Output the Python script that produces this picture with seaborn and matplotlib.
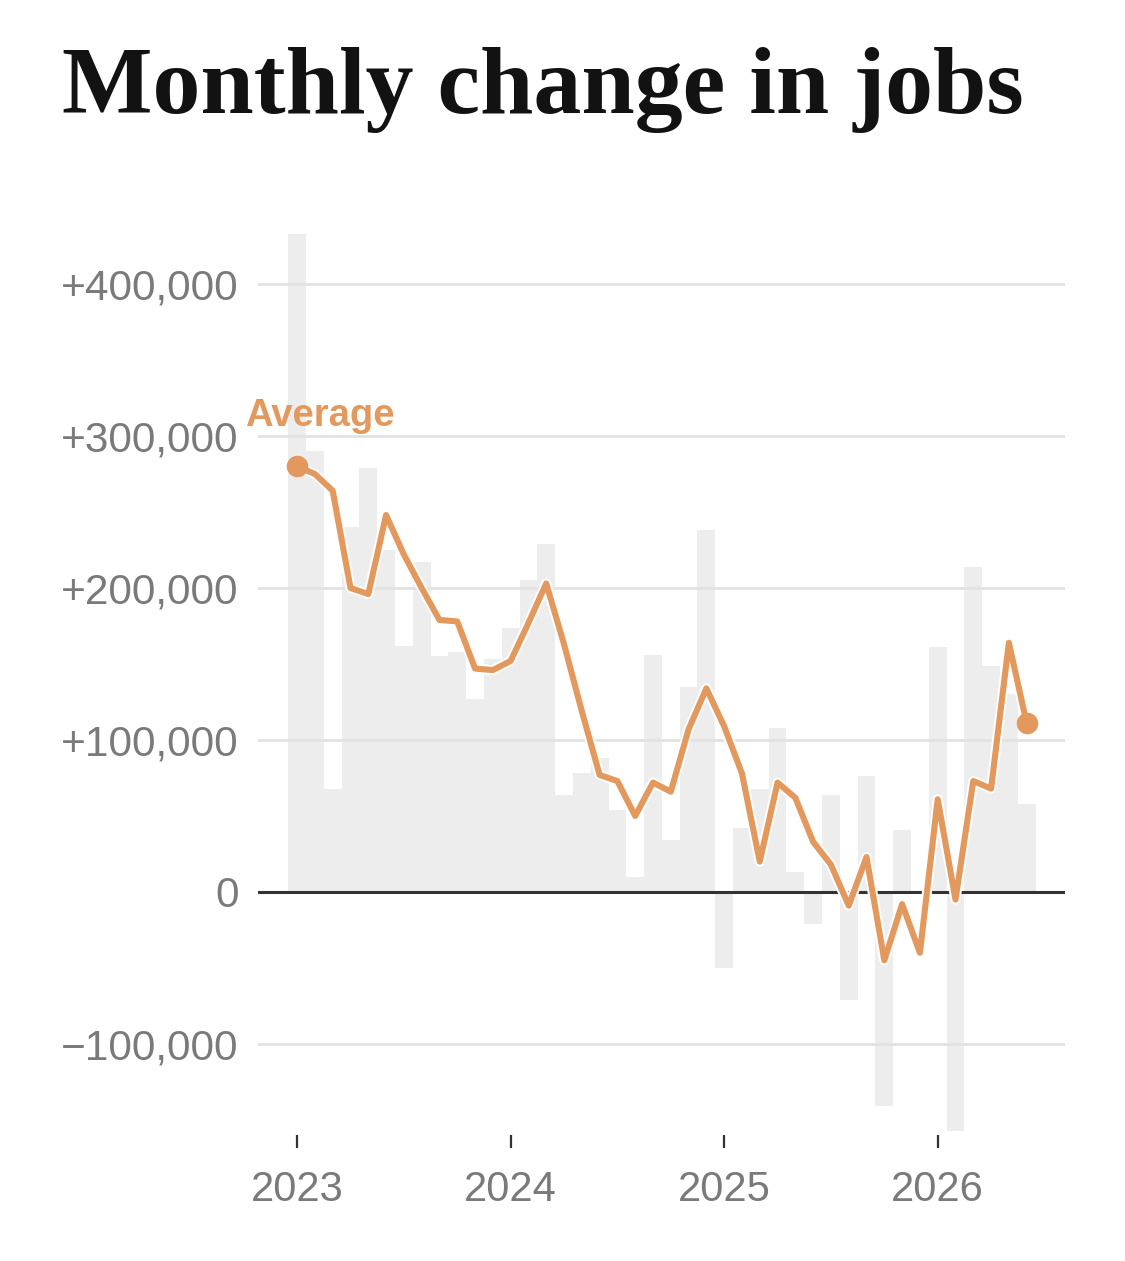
import matplotlib
matplotlib.use("Agg")
import matplotlib.pyplot as plt
import matplotlib.patheffects as pe
import seaborn as sns
import pandas as pd

# ---- data (thousands of jobs) ----
month_index = list(range(42))  # Jan 2023 .. Jun 2026
monthly_change = [433, 290, 68, 240, 279, 225, 162, 217, 155, 158, 127, 153,
                  174, 205, 229, 64, 78, 88, 54, 10, 156, 34, 135, 238,
                  -50, 42, 68, 108, 13, -21, 64, -71, 76, -141, 41, 0,
                  161, -157, 214, 149, 130, 58]
average = [280, 275, 264, 200, 196, 248, 222, 200, 179, 178, 147, 146,
           152, 177, 203, 163, 119, 77, 73, 50, 72, 66, 107, 134,
           109, 78, 20, 72, 62, 33, 18, -9, 23, -45, -8, -40,
           61, -5, 73, 68, 164, 111]
year_ticks = [0, 12, 24, 36]
year_labels = ["2023", "2024", "2025", "2026"]
y_ticks = [400, 300, 200, 100, 0, -100]
y_labels = ["+400,000", "+300,000", "+200,000", "+100,000", "0", "\u2212100,000"]

df = pd.DataFrame({"m": month_index, "change": monthly_change, "avg": average})

sns.set_theme(style="white")
plt.rcParams["font.family"] = ["Liberation Sans", "DejaVu Sans"]

ORANGE = "#E3995E"
GRAY_TXT = "#7a7a7a"

fig = plt.figure(figsize=(11.25, 12.61), dpi=100)
fig.patch.set_facecolor("white")
ax = fig.add_axes([0.2293, 0.0999, 0.7173, 0.7256])

sns.barplot(data=df, x="m", y="change", color="#EDEDED", saturation=1,
            width=1.0, linewidth=0, ax=ax, zorder=1)

for v in y_ticks:
    if v == 0:
        continue
    ax.axhline(v, color="#E2E2E2", lw=2.0, zorder=1.5)
ax.axhline(0, color="#333333", lw=2.2, zorder=2)

sns.lineplot(data=df, x="m", y="avg", color=ORANGE, lw=4.4, ax=ax, zorder=4,
             sort=False,
             path_effects=[pe.Stroke(linewidth=7.2, foreground="white"), pe.Normal()])
ax.plot([month_index[0], month_index[-1]], [average[0], average[-1]], 'o',
        color=ORANGE, ms=14.5, zorder=5, ls="none")

ax.text(-2.9, 306.5, "Average", color=ORANGE, fontsize=27.5, fontweight="bold",
        ha="left", va="baseline", clip_on=False, zorder=6)

ax.set_xlim(-2.2, 43.15)
ax.set_ylim(-159.9, 442.1)
ax.set_xticks(year_ticks)
ax.set_xticklabels(year_labels)
ax.set_yticks(y_ticks)
ax.set_yticklabels(y_labels)
ax.set_xlabel("")
ax.set_ylabel("")
for s in ax.spines.values():
    s.set_visible(False)
ax.tick_params(axis="x", direction="out", length=9.5, width=1.6, color="#333333",
               bottom=True, labelsize=30, labelcolor=GRAY_TXT, pad=16)
ax.tick_params(axis="y", length=0, labelsize=30.5, labelcolor=GRAY_TXT, pad=14)
ax.grid(False)

fig.text(62 / 1125, 1 - 113 / 1261, "Monthly change in jobs",
         family=["Liberation Serif", "DejaVu Serif"], fontweight="bold",
         fontsize=69, color="#121212", ha="left", va="baseline")

fig.savefig("out.png", dpi=100, facecolor="white")
